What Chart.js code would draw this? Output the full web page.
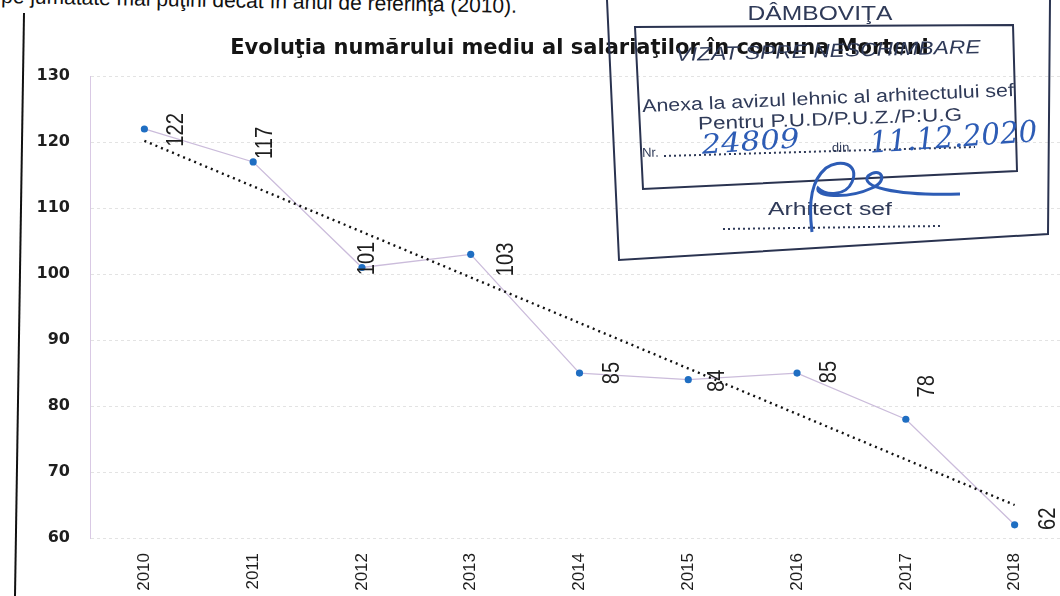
<!DOCTYPE html>
<html>
<head>
<meta charset="utf-8">
<script src="https://cdn.jsdelivr.net/npm/chart.js@4.4.1/dist/chart.umd.min.js"></script>
<style>
  html, body { margin: 0; padding: 0; background: #fff; width: 1060px; height: 596px; overflow: hidden; }
  #wrap { position: absolute; left: 0; top: 0; width: 1073px; height: 596px; }
  #topline { position: absolute; left: 1px; top: -15px; font: 21px 'Liberation Sans', Arial, sans-serif; line-height: 21px; color: #111; white-space: nowrap;
             transform-origin: 0 17px; transform: rotate(1.1deg); }
  #paper { position: absolute; left: 0; top: 0; pointer-events: none; }
</style>
</head>
<body>
<div id="topline">pe jumătate mai puţini decât în anul de referinţă (2010).</div>
<div id="wrap"><canvas id="chart" width="1073" height="596"></canvas></div>
<svg id="paper" width="1060" height="596" xmlns="http://www.w3.org/2000/svg">
  <!-- page margin line -->
  <line x1="24" y1="13" x2="15" y2="596" stroke="#111" stroke-width="2"/>
  <!-- stamp -->
  <g fill="none" stroke="#2a3350" stroke-width="2">
    <polyline points="607,0 619,260 1048,234 1050,0"/>
    <polygon points="635,27 1013,25 1017,171 643,189"/>
  </g>
  <g fill="#2f3a58" font-family="'Liberation Sans', Arial, sans-serif">
    <text x="820" y="20" font-size="20" text-anchor="middle" textLength="145" lengthAdjust="spacingAndGlyphs">DÂMBOVIŢA</text>
    <text x="828" y="57" font-size="19" font-style="italic" text-anchor="middle" textLength="305" lengthAdjust="spacingAndGlyphs" transform="rotate(-1.5 828 50)">VIZAT SPRE NESCHIMBARE</text>
    <text x="828" y="104" font-size="18" text-anchor="middle" textLength="372" lengthAdjust="spacingAndGlyphs" transform="rotate(-2.5 828 98)">Anexa la avizul lehnic al arhitectului sef</text>
    <text x="830" y="125" font-size="18" text-anchor="middle" textLength="264" lengthAdjust="spacingAndGlyphs" transform="rotate(-2 830 118)">Pentru P.U.D/P.U.Z./P:U.G</text>
    <text x="642" y="157" font-size="13" transform="rotate(-1.5 642 152)">Nr.</text>
    <text x="832" y="152" font-size="13" transform="rotate(-1.5 832 148)">din</text>
    <text x="830" y="215" font-size="19" text-anchor="middle" textLength="124" lengthAdjust="spacingAndGlyphs">Arhitect sef</text>
  </g>
  <g stroke="#2f3a58" stroke-width="2" stroke-dasharray="2 3">
    <line x1="664" y1="156" x2="975" y2="147"/>
    <line x1="723" y1="229" x2="940" y2="226"/>
  </g>
  <g fill="#2d5cb5" font-family="'DejaVu Serif', serif" font-style="italic">
    <text x="702" y="154" font-size="27" textLength="98" lengthAdjust="spacingAndGlyphs" transform="rotate(-4 700 150)">24809</text>
    <text x="870" y="153" font-size="30" textLength="168" lengthAdjust="spacingAndGlyphs" transform="rotate(-4 868 148)">11.12.2020</text>
  </g>
  <path d="M812 232 C808 200 812 180 826 168 C840 158 860 164 852 182 C846 196 826 196 818 188 C814 196 846 200 872 188 C890 180 880 166 868 176 C860 186 892 196 960 194"
        fill="none" stroke="#2d5cb5" stroke-width="3"/>
</svg>
<script>
// values
const years = ['2010', '2011', '2012', '2013', '2014', '2015', '2016', '2017', '2018'];
const employees = [122, 117, 101, 103, 85, 84, 85, 78, 62];
const trendEnds = [120.2, null, null, null, null, null, null, null, 65];
const yTicks = { min: 60, max: 130, step: 10 };
const chartTitle = 'Evoluţia numărului mediu al salariaţilor în comuna Morteni';

// manual label nudges (dx, dy in px) like the original sheet
const labelShift = [[32, 1], [12, -19], [5, -9], [36, 5], [33, 0], [29, 1], [32, -1], [22, -33], [34, -6]];

const valueLabels = {
    id: 'valueLabels',
    afterDatasetsDraw(chart) {
        const ctx = chart.ctx;
        const meta = chart.getDatasetMeta(0);
        ctx.save();
        ctx.fillStyle = '#1e1e1e';
        ctx.font = "24px 'Liberation Sans', Arial, sans-serif";
        ctx.textAlign = 'center';
        ctx.textBaseline = 'middle';
        meta.data.forEach((pt, i) => {
            const [dx, dy] = labelShift[i];
            ctx.save();
            ctx.translate(pt.x + dx, pt.y + dy);
            ctx.rotate(-Math.PI / 2);
            ctx.scale(0.84, 1); // narrow, like the sheet's font
            ctx.fillText(String(employees[i]), 0, 0);
            ctx.restore();
        });
        ctx.restore();
    }
};

new Chart(document.getElementById('chart'), {
    type: 'line',
    data: {
        labels: years,
        datasets: [
            { data: employees, borderColor: '#cbbcdb', borderWidth: 1.3, pointBackgroundColor: '#1f6ec2', pointBorderWidth: 0, pointRadius: 3.6, order: 1 },
            { data: trendEnds, spanGaps: true, borderColor: '#111', borderWidth: 2.4, borderDash: [2, 4], pointRadius: 0, order: 0 }
        ]
    },
    options: {
        responsive: false,
        animation: false,
        devicePixelRatio: 1,
        layout: { padding: 0 },
        plugins: {
            legend: { display: false },
            tooltip: { enabled: false },
            title: {
                display: true, fullSize: false, text: chartTitle, color: '#151515',
                font: { family: "'DejaVu Sans', sans-serif", size: 21, weight: 'bold' },
                padding: { top: 36, bottom: 15 }
            }
        },
        scales: {
            x: {
                offset: true,
                grid: { display: false },
                border: { display: false },
                ticks: { color: '#1e1e1e', minRotation: 90, maxRotation: 90, padding: 7, font: { family: "'Liberation Sans', Arial, sans-serif", size: 17 } },
                afterFit: s => { s.height = 58; }
            },
            y: {
                min: yTicks.min, max: yTicks.max,
                grid: { color: '#e3e3e3', lineWidth: 1, drawTicks: false },
                border: { color: '#d9c9e4', dash: [3, 3] },
                ticks: { stepSize: yTicks.step, color: '#1e1e1e', padding: 20, font: { family: "'DejaVu Sans', sans-serif", size: 16, weight: 'bold' } },
                afterFit: s => { s.width = 90; }
            }
        }
    },
    plugins: [valueLabels]
});
</script>
</body>
</html>
